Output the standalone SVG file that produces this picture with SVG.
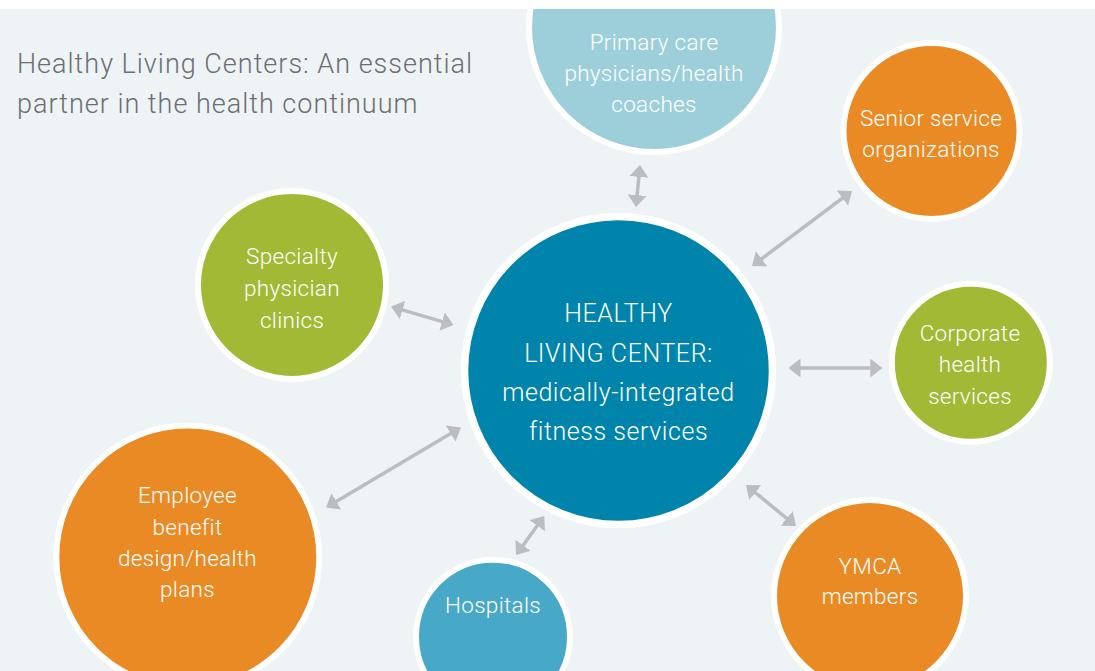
<svg xmlns="http://www.w3.org/2000/svg" width="1095" height="671" viewBox="0 0 1095 671">
  <defs>
    <marker id="head" viewBox="0 0 12 19" refX="2" refY="9.5" markerWidth="12" markerHeight="19" markerUnits="userSpaceOnUse" orient="auto-start-reverse">
      <path d="M0,0 L12,9.5 L0,19 Z" fill="#bcbdc0"/>
    </marker>
    <style>
      .bg { fill: #eef3f6; }
      .ring { stroke: #ffffff; stroke-width: 6; }
      .hub { fill: #0084ab; }
      .orange { fill: #ea8a24; }
      .green { fill: #a1b934; }
      .sky { fill: #9dcfdb; }
      .teal { fill: #47a8c7; }
      .label { font-family: Roboto, "Liberation Sans", sans-serif; font-weight: 300; font-size: 22.5px; fill: #ffffff; text-anchor: middle; letter-spacing: 0.3px; }
      .hub-label { font-size: 25px; letter-spacing: 0.55px; }
      .title { font-family: Roboto, "Liberation Sans", sans-serif; font-weight: 300; font-size: 27px; fill: #6d6e71; letter-spacing: 1px; }
      .link { stroke: #bcbdc0; stroke-width: 3.5; fill: none; marker-start: url(#head); marker-end: url(#head); }
    </style>
  </defs>

  <!-- page background with a white band along the top edge -->
  <rect class="bg" x="0" y="0" width="1095" height="671"/>

  <g id="title">
    <text class="title" x="17" y="72.5">Healthy Living Centers: An essential</text>
    <text class="title" x="17" y="113">partner in the health continuum</text>
  </g>

  <!-- two-way connectors between the hub and each partner -->
  <g id="connectors">
    <line class="link" x1="639.05" y1="174.96" x2="636.95" y2="197.04"/>
    <line class="link" x1="844" y1="197" x2="760" y2="260"/>
    <line class="link" x1="400.59" y1="309.34" x2="443.91" y2="322.16"/>
    <line class="link" x1="798.5" y1="368" x2="872.3" y2="368"/>
    <line class="link" x1="334.6" y1="502.4" x2="452.4" y2="432.6"/>
    <line class="link" x1="521.87" y1="546.91" x2="538.43" y2="524.09"/>
    <line class="link" x1="753.73" y1="491.34" x2="788.27" y2="519.66"/>
  </g>

  <g id="primary-care">
    <circle class="sky ring" cx="654" cy="27" r="125"/>
    <text class="label" x="654" y="50">Primary care</text>
    <text class="label" x="654" y="81">physicians/health</text>
    <text class="label" x="654" y="112">coaches</text>
  </g>

  <g id="senior-service">
    <circle class="orange ring" cx="931.5" cy="131" r="88"/>
    <text class="label" x="931" y="126">Senior service</text>
    <text class="label" x="931" y="157">organizations</text>
  </g>

  <g id="specialty-clinics">
    <circle class="green ring" cx="292" cy="285" r="94"/>
    <text class="label" x="292" y="264">Specialty</text>
    <text class="label" x="292" y="296">physician</text>
    <text class="label" x="292" y="327.5">clinics</text>
  </g>

  <g id="healthy-living-center">
    <circle class="hub" cx="618.5" cy="370.5" r="154" stroke="#ffffff" stroke-width="7.5"/>
    <text class="label hub-label" x="618.5" y="321.5">HEALTHY</text>
    <text class="label hub-label" x="618.5" y="361.5">LIVING CENTER:</text>
    <text class="label hub-label" x="618.5" y="401">medically-integrated</text>
    <text class="label hub-label" x="618.5" y="440">fitness services</text>
  </g>

  <g id="corporate-health">
    <circle class="green ring" cx="970.8" cy="362.8" r="79"/>
    <text class="label" x="970" y="341">Corporate</text>
    <text class="label" x="970" y="372">health</text>
    <text class="label" x="970" y="403.5">services</text>
  </g>

  <g id="employee-benefit">
    <circle class="orange ring" cx="187.8" cy="557" r="131.5"/>
    <text class="label" x="187.5" y="503">Employee</text>
    <text class="label" x="187.5" y="535">benefit</text>
    <text class="label" x="187.5" y="566">design/health</text>
    <text class="label" x="187.5" y="597">plans</text>
  </g>

  <g id="hospitals">
    <circle class="teal ring" cx="493" cy="636.7" r="77"/>
    <text class="label" x="493" y="613">Hospitals</text>
  </g>

  <g id="ymca-members">
    <circle class="orange ring" cx="870" cy="596" r="96"/>
    <text class="label" x="870" y="573.5">YMCA</text>
    <text class="label" x="870" y="604">members</text>
  </g>

  <rect x="0" y="0" width="1095" height="9" fill="#ffffff"/>
</svg>
